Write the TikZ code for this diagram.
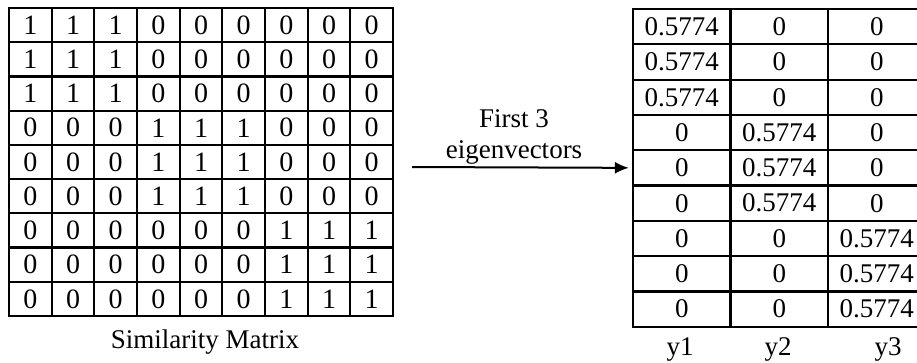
\documentclass[tikz,border=0pt]{standalone}
\usepackage{fontspec}
\setmainfont{Liberation Serif}
\usetikzlibrary{arrows.meta}

\begin{document}
\begin{tikzpicture}[
x=1pt, y=-1pt,
cell/.style={draw, line width=2.2pt, inner sep=0pt},
simcell/.style={cell, minimum width=42.67pt, minimum height=34.22pt,
  font=\fontsize{28}{28}\selectfont},
veccell/.style={cell, minimum width=97.5pt, minimum height=35.3pt,
  font=\fontsize{27}{27}\selectfont},
lbl/.style={font=\fontsize{27}{31}\selectfont, align=center},
]
\useasboundingbox (0,0) rectangle (917,362);
% матрица сходства
\foreach \r in {1,...,9}
 \foreach \c in {1,...,9} {
  \pgfmathtruncatemacro{\v}{int((\r-1)/3)==int((\c-1)/3)}
  \node[simcell] (s-\r-\c) at ({9+42.67*(\c-0.5)}, {8+34.22*(\r-0.5)}) {\v};
 }
\node[lbl] (simname) at (205,342) {Similarity Matrix};
% собственные векторы
\foreach \r in {1,...,9}
 \foreach \c in {1,2,3} {
  \pgfmathtruncatemacro{\k}{int((\r-1)/3)+1==\c}
  \ifnum\k=1 \def\v{0.5774}\else\def\v{0}\fi
  \node[veccell] (v-\r-\c) at ({633+97.5*(\c-0.5)}, {9+35.3*(\r-0.5)}) {\v};
 }
\node[lbl] (y1) at (680,349) {y1};
\node[lbl] (y2) at (778,349) {y2};
\node[lbl] (y3) at (888,349) {y3};
% стрелка
\coordinate (arrstart) at (412,167);
\draw[line width=2pt, -{Latex[length=14pt,width=12pt]}]
(arrstart) -- ([xshift=-3pt]v-5-1.west);
\node[lbl] (arrlbl) at (514,137) {First 3\\eigenvectors};
\end{tikzpicture}
\end{document}
